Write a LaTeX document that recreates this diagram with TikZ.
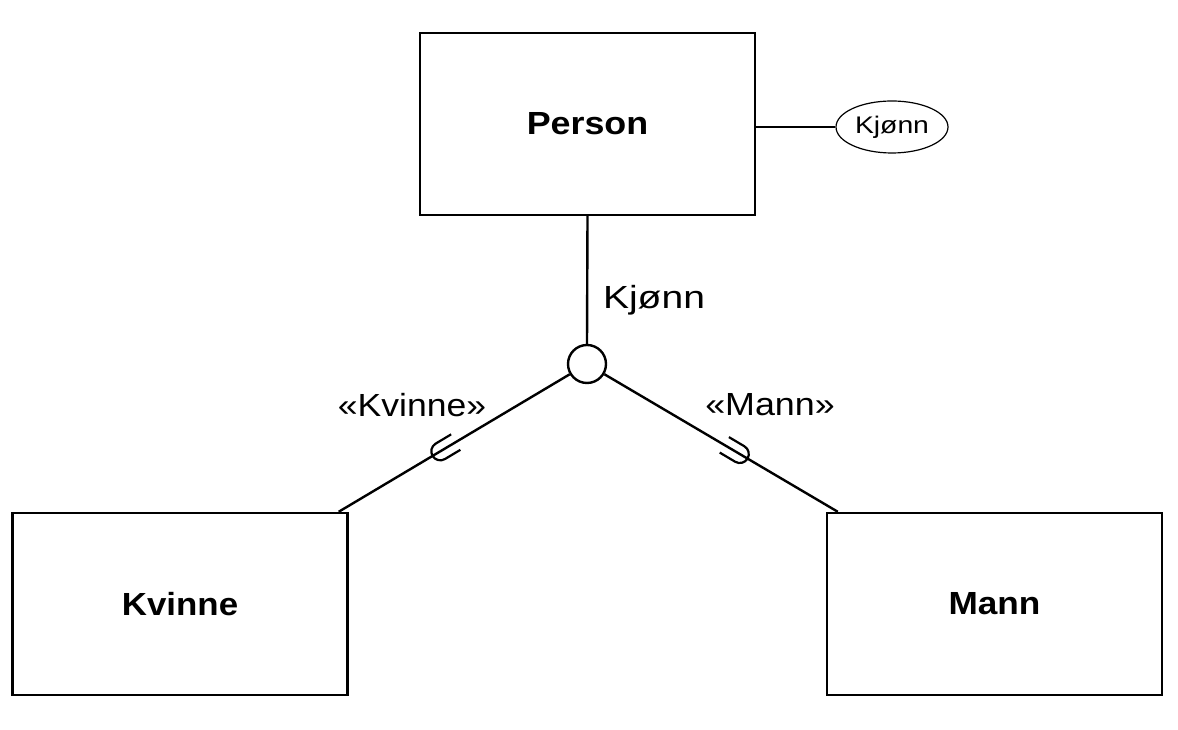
\documentclass[tikz,border=0pt]{standalone}
\usepackage{fontspec}
\setmainfont{Liberation Sans}
\usetikzlibrary{calc,shapes.geometric}
\newcommand{\wide}[2]{\scalebox{#1}[1]{#2}}
\begin{document}
\begin{tikzpicture}[x=1pt,y=1pt,
  entity/.style={draw,line width=2.4pt,minimum width=335pt,minimum height=182pt,inner sep=0pt,font=\fontsize{32}{36}\selectfont\bfseries},
  conn/.style={line width=2.4pt},
  attr/.style={draw,ellipse,line width=1.2pt,minimum width=112pt,minimum height=52pt,inner sep=0pt,font=\fontsize{24}{28}\selectfont},
  lbl/.style={font=\fontsize{32}{36}\selectfont,inner sep=0pt},
  cup/.style={line width=2.2pt}]
\useasboundingbox (0,0) rectangle (1178,730);
\node[entity] (person) at (587.5,606) {\wide{1.12}{Person}};
\node[attr] (kj) at (892,603) {\wide{1.18}{Kjønn}};
\node[draw,circle,line width=2.4pt,minimum size=38pt,inner sep=0pt] (circ) at (587,366) {};
\node[entity] (kv) at (180,126) {\wide{1.09}{Kvinne}};
\node[entity] (mann) at (994.5,126) {\wide{1.1}{Mann}};
\coordinate (kvend) at ($(kv.north east)+(-10,0)$);
\coordinate (maend) at ($(mann.north west)+(12,0)$);
\draw[line width=1.2pt] (person.east |- kj.west) -- (kj.west);
\draw[conn] (person.south) -- (circ.north);
\draw[conn] (circ) -- (kvend);
\draw[conn] (circ) -- (maend);
\path (kvend) -- (circ) coordinate[pos=0.44] (cupL);
\path (maend) -- (circ) coordinate[pos=0.42] (cupR);
\draw[cup,rotate around={30.9:(cupL)}] ($(cupL)+(18,9)$) -- ($(cupL)+(0,9)$) arc (90:270:9) -- ($(cupL)+(18,-9)$);
\draw[cup,rotate around={149.3:(cupR)}] ($(cupR)+(18,9)$) -- ($(cupR)+(0,9)$) arc (90:270:9) -- ($(cupR)+(18,-9)$);
\node[lbl] (lkj) at (654,430) {\wide{1.22}{Kjønn}};
\node[lbl] (lkv) at (412,325) {\wide{1.11}{«Kvinne»}};
\node[lbl] (lma) at (770,325) {\wide{1.12}{«Mann»}};
\end{tikzpicture}
\end{document}
